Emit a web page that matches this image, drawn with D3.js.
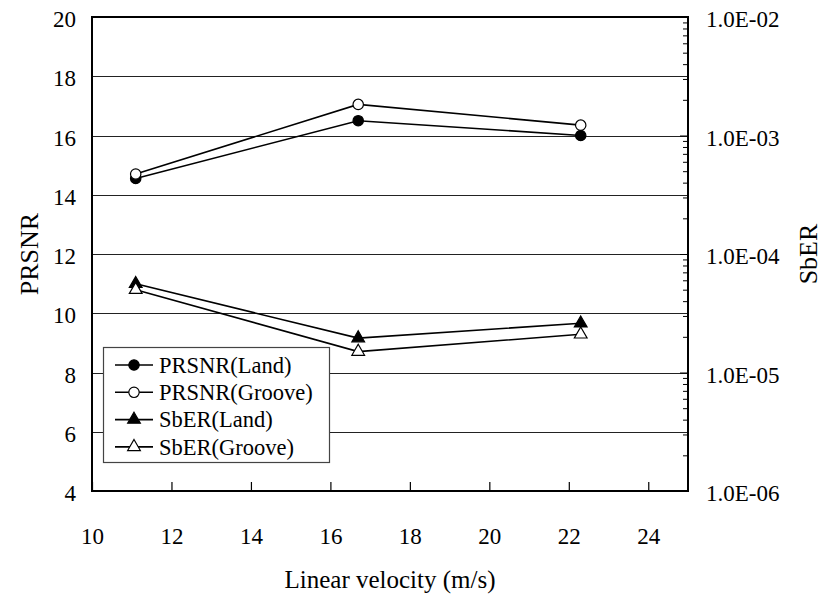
<!DOCTYPE html>
<html>
<head>
<meta charset="utf-8">
<script src="https://cdn.jsdelivr.net/npm/d3@7"></script>
<style>
  body { margin: 0; background: #fff; }
  text { font-family: "Liberation Serif", "Times New Roman", serif; fill: #000; }
</style>
</head>
<body>
<svg id="chart" width="822" height="602"></svg>
<script>
// chart values
let velocity = [11.1, 16.7, 22.3];
let prsnr_land = [14.55, 16.5, 16.0];
let prsnr_groove = [14.7, 17.05, 16.35];
let sber_land = [5.6e-5, 1.95e-5, 2.6e-5];
let sber_groove = [5.0e-5, 1.5e-5, 2.1e-5];

let x_ticks = [10, 12, 14, 16, 18, 20, 22, 24];
let y_ticks = [4, 6, 8, 10, 12, 14, 16, 18, 20];
let sber_ticks = [1e-6, 1e-5, 1e-4, 1e-3, 1e-2];

let legend_labels = ["PRSNR(Land)", "PRSNR(Groove)", "SbER(Land)", "SbER(Groove)"];

let margin = {left: 92, top: 17, right: 688, bottom: 491};

let svg = d3.select("#chart");

let x = d3.scaleLinear().domain([10, 25]).range([margin.left, margin.right]);
let y = d3.scaleLinear().domain([4, 20]).range([margin.bottom, margin.top]);
let y2 = d3.scaleLog().domain([1e-6, 1e-2]).range([margin.bottom, margin.top]);

// grid lines
svg.append("g")
    .selectAll("line").data(y_ticks.slice(1, -1)).join("line")
    .attr("x1", margin.left)
    .attr("x2", margin.right)
    .attr("y1", d => Math.round(y(d)) + 0.5)
    .attr("y2", d => Math.round(y(d)) + 0.5)
    .attr("stroke", "#222")
    .attr("stroke-width", 1);

// frame
svg.append("rect")
    .attr("x", margin.left)
    .attr("y", margin.top)
    .attr("width", margin.right - margin.left)
    .attr("height", margin.bottom - margin.top)
    .attr("fill", "none")
    .attr("stroke", "#000")
    .attr("stroke-width", 2);

// bottom axis, ticks pointing inside
let x_axis = svg.append("g")
    .attr("transform", "translate(0," + margin.bottom + ")")
    .call(d3.axisBottom(x).tickValues(x_ticks).tickSizeInner(-9).tickSizeOuter(0).tickPadding(37));
x_axis.select(".domain").remove();
x_axis.selectAll("line").attr("stroke", "#000").attr("stroke-width", 1.2);
x_axis.selectAll("text").style("font-size", "23px");

// left axis, labels only
let y_axis = svg.append("g")
    .attr("transform", "translate(" + margin.left + ",0)")
    .call(d3.axisLeft(y).tickValues(y_ticks).tickSize(0).tickPadding(16));
y_axis.select(".domain").remove();
y_axis.selectAll("text").style("font-size", "23px").attr("dy", "0.42em");

// right log axis
let minors = [];
for (let e = -6; e < -2; e++) {
    for (let m = 2; m < 10; m++) minors.push(m * Math.pow(10, e));
}
let r_minor = svg.append("g")
    .attr("transform", "translate(" + margin.right + ",0)")
    .call(d3.axisRight(y2).tickValues(minors).tickSize(-5).tickFormat(""));
r_minor.select(".domain").remove();
r_minor.selectAll("line").attr("stroke", "#000");

let r_axis = svg.append("g")
    .attr("transform", "translate(" + margin.right + ",0)")
    .call(d3.axisRight(y2).tickValues(sber_ticks).tickSizeInner(-8).tickSizeOuter(0).tickPadding(18)
        .tickFormat(d => "1.0E-" + String(-Math.round(Math.log10(d))).padStart(2, "0")));
r_axis.select(".domain").remove();
r_axis.selectAll("line").attr("stroke", "#000");
r_axis.selectAll("text").style("font-size", "23px").attr("dy", "0.42em");

// axis titles
svg.append("text")
    .attr("x", (margin.left + margin.right) / 2)
    .attr("y", 588)
    .attr("text-anchor", "middle")
    .style("font-size", "25px")
    .text("Linear velocity (m/s)");

svg.append("text")
    .attr("transform", "translate(38," + (margin.top + margin.bottom) / 2 + ") rotate(-90)")
    .attr("text-anchor", "middle")
    .style("font-size", "26px")
    .text("PRSNR");

svg.append("text")
    .attr("transform", "translate(817," + (margin.top + margin.bottom) / 2 + ") rotate(-90)")
    .attr("text-anchor", "middle")
    .style("font-size", "26px")
    .text("SbER");

// series
let series = [
    {vals: prsnr_land, scale: y, shape: d3.symbolCircle, fill: "#000"},
    {vals: prsnr_groove, scale: y, shape: d3.symbolCircle, fill: "#fff"},
    {vals: sber_land, scale: y2, shape: d3.symbolTriangle, fill: "#000"},
    {vals: sber_groove, scale: y2, shape: d3.symbolTriangle, fill: "#fff"}
];

let sym_size = {};
sym_size[d3.symbolCircle] = 80;

function symbol_path(shape) {
    return d3.symbol().type(shape).size(shape === d3.symbolCircle ? 85 : 70)();
}

series.forEach(s => {
    let line = d3.line()
        .x((d, i) => x(velocity[i]))
        .y(d => s.scale(d));
    svg.append("path")
        .datum(s.vals)
        .attr("d", line)
        .attr("fill", "none")
        .attr("stroke", "#000")
        .attr("stroke-width", 1.6);
});

series.forEach(s => {
    svg.append("g")
        .selectAll("path").data(s.vals).join("path")
        .attr("transform", (d, i) => "translate(" + x(velocity[i]) + "," + s.scale(d) + ")")
        .attr("d", symbol_path(s.shape))
        .attr("fill", s.fill)
        .attr("stroke", "#000")
        .attr("stroke-width", 1.2);
});

// legend
let legend = svg.append("g").attr("transform", "translate(103,347)");
legend.append("rect")
    .attr("x", 0.5)
    .attr("y", 0.5)
    .attr("width", 226)
    .attr("height", 115)
    .attr("fill", "#fff")
    .attr("stroke", "#444")
    .attr("stroke-width", 1.2);

let rows = legend.selectAll("g.row").data(series).join("g")
    .attr("class", "row")
    .attr("transform", (d, i) => "translate(0," + (18 + 27.3 * i) + ")");
rows.append("line")
    .attr("x1", 12).attr("x2", 50)
    .attr("stroke", "#000").attr("stroke-width", 1.6);
rows.append("path")
    .attr("transform", "translate(31,0)")
    .attr("d", d => symbol_path(d.shape))
    .attr("fill", d => d.fill)
    .attr("stroke", "#000")
    .attr("stroke-width", 1.2);
rows.append("text")
    .attr("x", 56)
    .attr("dy", "0.35em")
    .style("font-size", "22.5px")
    .text((d, i) => legend_labels[i]);
</script>
</body>
</html>
